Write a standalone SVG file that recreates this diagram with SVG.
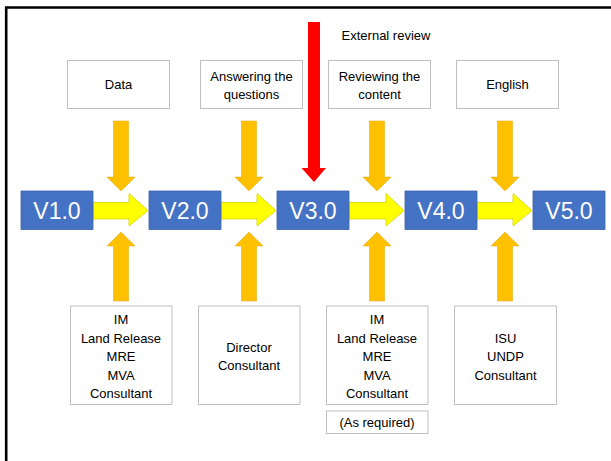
<svg xmlns="http://www.w3.org/2000/svg" width="611" height="461" viewBox="0 0 611 461">
<style>
.frame{fill:none;stroke:#000;stroke-width:2.6}
.ver rect{fill:#4472C4;stroke:#3a62a8;stroke-width:0.8}
.ver text{font-family:"Liberation Sans",Arial,sans-serif;font-size:23px;fill:#fff;text-anchor:middle}
.lbl rect{fill:#fff;stroke:#c0c0c0;stroke-width:1}
.lbl text{font-family:"Liberation Sans",Arial,sans-serif;font-size:13px;fill:#000;text-anchor:middle}
.note{font-family:"Liberation Sans",Arial,sans-serif;font-size:13px;fill:#000;text-anchor:middle}
.yel{fill:#FFFF00;stroke:#d4d400;stroke-width:0.8}
.org{fill:#FFC000;stroke:#e0a800;stroke-width:0.5}
.red{fill:#FF0000}
</style>
<rect width="611" height="461" fill="#fff"/>
<path class="frame" d="M6.2,461 V7.5 H611"/>

<g id="connectors">
  <!-- yellow horizontal arrows -->
  <polygon class="yel" points="93,202.5 129,202.5 129,193.5 148,210.5 129,226 129,219 93,219"/>
  <polygon class="yel" points="221,202.5 257,202.5 257,193.5 276,210.5 257,226 257,219 221,219"/>
  <polygon class="yel" points="349,202.5 386,202.5 386,193.5 404,210.5 386,226 386,219 349,219"/>
  <polygon class="yel" points="477,202.5 513,202.5 513,193.5 532,210.5 513,226 513,219 477,219"/>
  <!-- orange down arrows -->
  <polygon class="org" points="113.5,121 128.5,121 128.5,177 135,177 121,191 107,177 113.5,177"/>
  <polygon class="org" points="241.5,121 256.5,121 256.5,177 263,177 249,191 235,177 241.5,177"/>
  <polygon class="org" points="369.5,121 384.5,121 384.5,177 391,177 377,191 363,177 369.5,177"/>
  <polygon class="org" points="497.5,121 512.5,121 512.5,177 519,177 505,191 491,177 497.5,177"/>
  <!-- orange up arrows -->
  <polygon class="org" points="113.5,301 128.5,301 128.5,246 135,246 121,232 107,246 113.5,246"/>
  <polygon class="org" points="241.5,301 256.5,301 256.5,246 263,246 249,232 235,246 241.5,246"/>
  <polygon class="org" points="369.5,301 384.5,301 384.5,246 391,246 377,232 363,246 369.5,246"/>
  <polygon class="org" points="497.5,301 512.5,301 512.5,246 519,246 505,232 491,246 497.5,246"/>
  <!-- red external review arrow -->
  <polygon class="red" points="308,22 320,22 320,168 326,168 314,182 301.5,168 308,168"/>
</g>

<text id="external-review" class="note" x="386" y="39.5">External review</text>

<g id="v1" class="ver"><rect x="21" y="191" width="72" height="38.5"/><text x="57" y="218.5">V1.0</text></g>
<g id="v2" class="ver"><rect x="149" y="191" width="72" height="38.5"/><text x="185" y="218.5">V2.0</text></g>
<g id="v3" class="ver"><rect x="277" y="191" width="72" height="38.5"/><text x="313" y="218.5">V3.0</text></g>
<g id="v4" class="ver"><rect x="405" y="191" width="72" height="38.5"/><text x="441" y="218.5">V4.0</text></g>
<g id="v5" class="ver"><rect x="533" y="191" width="72" height="38.5"/><text x="569" y="218.5">V5.0</text></g>

<g id="top-data" class="lbl"><rect x="67.5" y="60.5" width="102" height="48"/><text x="118.5" y="88.5">Data</text></g>
<g id="top-answering" class="lbl"><rect x="200.5" y="60.5" width="102" height="48"/><text x="251.5" y="80.5">Answering the</text><text x="251.5" y="98.5">questions</text></g>
<g id="top-reviewing" class="lbl"><rect x="328.5" y="60.5" width="102" height="48"/><text x="379.5" y="80.5">Reviewing the</text><text x="379.5" y="98.5">content</text></g>
<g id="top-english" class="lbl"><rect x="456.5" y="60.5" width="102" height="48"/><text x="507.5" y="88.5">English</text></g>

<g id="bottom-1" class="lbl"><rect x="70.5" y="306" width="101.5" height="98.5"/>
  <text x="121" y="323.5">IM</text><text x="121" y="342.5">Land Release</text><text x="121" y="361">MRE</text><text x="121" y="379.5">MVA</text><text x="121" y="398">Consultant</text></g>
<g id="bottom-2" class="lbl"><rect x="198.5" y="306" width="101.5" height="98.5"/>
  <text x="249" y="351.5">Director</text><text x="249" y="369.5">Consultant</text></g>
<g id="bottom-3" class="lbl"><rect x="326.5" y="306" width="101.5" height="98.5"/>
  <text x="377" y="323.5">IM</text><text x="377" y="342.5">Land Release</text><text x="377" y="361">MRE</text><text x="377" y="379.5">MVA</text><text x="377" y="398">Consultant</text></g>
<g id="bottom-4" class="lbl"><rect x="454.5" y="306" width="102" height="98.5"/>
  <text x="505.5" y="343">ISU</text><text x="505.5" y="361">UNDP</text><text x="505.5" y="379.5">Consultant</text></g>
<g id="as-required" class="lbl"><rect x="326.5" y="411" width="101.5" height="22.5"/><text x="377" y="426.5">(As required)</text></g>
</svg>
